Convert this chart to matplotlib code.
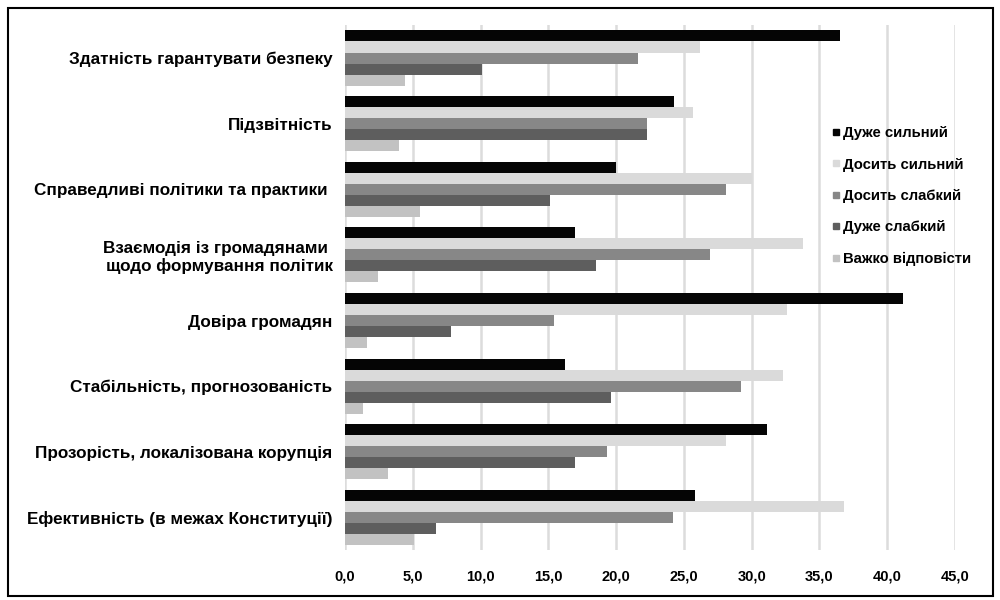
import matplotlib.pyplot as plt
import numpy as np
from matplotlib.lines import Line2D
from matplotlib.patches import Rectangle

plt.rcParams['font.family'] = ['Liberation Sans', 'DejaVu Sans']

categories = ["Здатність гарантувати безпеку",
              "Підзвітність",
              "Справедливі політики та практики ",
              "Взаємодія із громадянами \nщодо формування політик",
              "Довіра громадян",
              "Стабільність, прогнозованість",
              "Прозорість, локалізована корупція",
              "Ефективність (в межах Конституції)"]

series_names = ["Дуже сильний", "Досить сильний", "Досить слабкий",
                "Дуже слабкий", "Важко відповісти"]

# values, one list per series (same order as categories)
very_strong = [36.5, 24.3, 20.0, 17.0, 41.2, 16.2, 31.1, 25.8]
fairly_strong = [26.2, 25.7, 30.0, 33.8, 32.6, 32.3, 28.1, 36.8]
fairly_weak = [21.6, 22.3, 28.1, 26.9, 15.4, 29.2, 19.3, 24.2]
very_weak = [10.1, 22.3, 15.1, 18.5, 7.8, 19.6, 17.0, 6.7]
hard_to_say = [4.4, 4.0, 5.5, 2.4, 1.6, 1.3, 3.2, 5.1]

colors = ["#050505", "#dadada", "#878787", "#5e5e5e", "#c2c2c2"]

series = [very_strong, fairly_strong, fairly_weak, very_weak, hard_to_say]

fig = plt.figure(figsize=(10, 6), dpi=100)
ax = fig.add_axes([0.345, 0.083, 0.61, 0.875])

y = np.arange(len(categories))
h = 0.168
for i, (vals, col, name) in enumerate(zip(series, colors, series_names)):
    ax.barh(y + (i - 2) * h, vals, height=h, color=col, label=name, zorder=3)

ax.set_xlim(0, 45)
ax.set_ylim(7.5, -0.5)
ax.set_xticks(np.arange(0, 46, 5))
ax.set_xticklabels([f"{v:.1f}".replace(".", ",") for v in np.arange(0, 46, 5)],
                   fontweight="bold", fontsize=10.5)
ax.set_yticks(y)
ax.set_yticklabels(categories, fontweight="bold", fontsize=12.3)
ax.tick_params(axis="both", length=0)
ax.tick_params(axis="x", pad=14)
ax.tick_params(axis="y", pad=9)
ax.grid(axis="x", color="#dcdcdc", linewidth=1.8, zorder=0)
for s in ax.spines.values():
    s.set_visible(False)

handles = [Line2D([0], [0], marker="s", color="none", markerfacecolor=c,
                  markeredgecolor=c, markersize=5) for c in colors]
fig.legend(handles, series_names, loc="upper left", bbox_to_anchor=(0.818, 0.812),
           frameon=False, handlelength=0.6, handletextpad=0.2,
           labelspacing=1.17, prop={"size": 10.7, "weight": "bold"})

# outer frame
fig.patches.append(Rectangle((0.008, 0.006), 0.985, 0.981, transform=fig.transFigure,
                             fill=False, edgecolor="black", linewidth=1.5))

fig.savefig("out.png", dpi=100)
